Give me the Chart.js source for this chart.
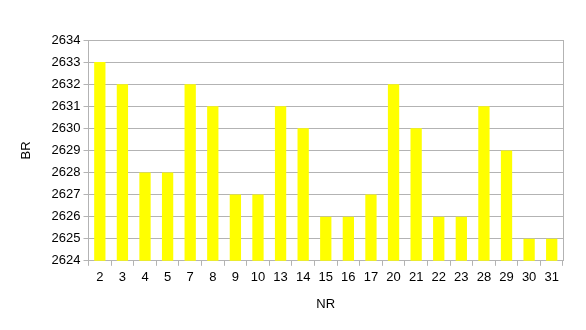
<!DOCTYPE html>
<html><head><meta charset="utf-8">
<script src="https://cdn.jsdelivr.net/npm/chart.js@4/dist/chart.umd.min.js"></script>
<style>html,body{margin:0;padding:0;background:#fff}#wrap{width:586px;height:330px;position:relative}</style>
</head><body><div id="wrap"><canvas id="c" width="586" height="330"></canvas></div>
<script>
const categories = ["2","3","4","5","7","8","9","10","13","14","15","16","17","20","21","22","23","28","29","30","31"];
const brValues = [2633,2632,2628,2628,2632,2631,2627,2627,2631,2630,2626,2626,2627,2632,2630,2626,2626,2631,2629,2625,2625];
const yMin = 2624, yMax = 2634, yStep = 1;
const xTitle = "NR", yTitle = "BR";

const gridColor = "#b3b3b3";
const font = {family: "'Liberation Sans', Arial, sans-serif", size: 13};

const rightBorder = {
  id: 'rightBorder',
  afterDraw(chart) {
    const {ctx, chartArea} = chart;
    ctx.save();
    ctx.strokeStyle = gridColor;
    ctx.lineWidth = 1;
    ctx.beginPath();
    const x = Math.round(chartArea.right) + 0.5;
    ctx.moveTo(x, chartArea.top);
    ctx.lineTo(x, chartArea.bottom);
    ctx.stroke();
    ctx.restore();
  }
};

new Chart(document.getElementById('c'), {
  type: 'bar',
  data: {labels: categories, datasets: [{data: brValues, backgroundColor: '#ffff00', borderWidth: 0, barPercentage: 0.5, categoryPercentage: 1.0}]},
  options: {
    responsive: false, animation: false,
    layout: {padding: {left: 15, right: 23, top: 40, bottom: 14}},
    plugins: {legend: {display: false}, tooltip: {enabled: false}},
    scales: {
      x: {
        offset: true,
        grid: {offset: true, drawOnChartArea: false, drawTicks: true, tickLength: 5, color: gridColor},
        border: {color: gridColor},
        ticks: {color: '#000', font: font, padding: 4, maxRotation: 0, autoSkip: false},
        title: {display: true, text: xTitle, color: '#000', font: font, padding: {top: 7}}
      },
      y: {
        min: yMin, max: yMax,
        grid: {color: gridColor, tickLength: 5},
        border: {color: gridColor},
        ticks: {stepSize: yStep, color: '#000', font: font, padding: 3, callback: v => String(v)},
        title: {display: true, text: yTitle, color: '#000', font: font, padding: {bottom: 14}}
      }
    }
  },
  plugins: [rightBorder]
});
</script></body></html>
